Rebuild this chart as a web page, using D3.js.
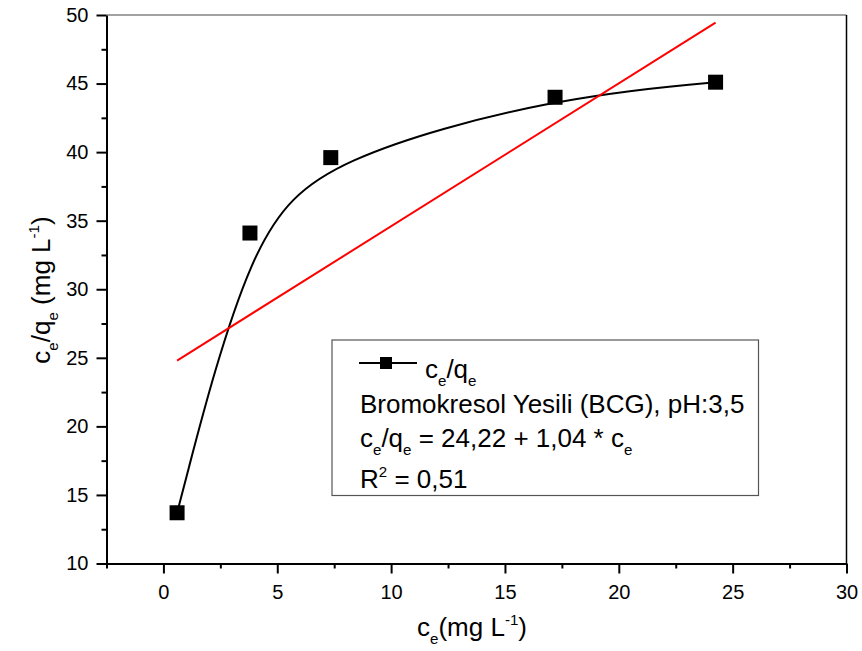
<!DOCTYPE html>
<html>
<head>
<meta charset="utf-8">
<script src="https://cdn.jsdelivr.net/npm/d3@7"></script>
<style>
  html, body { margin: 0; padding: 0; background: #fff; }
  svg { display: block; font-family: Arial, "Liberation Sans", sans-serif; }
</style>
</head>
<body>
<svg id="mount" width="862" height="651"></svg>
<script>
// Data
var ceValues = [0.6, 3.8, 7.35, 17.2, 24.25];
var ceqeValues = [13.7, 34.1, 39.6, 44.0, 45.1];

// Linear fit ends
var fitX = [0.6, 24.25];
var fitY = [24.8, 49.45];

var xTicks = [0, 5, 10, 15, 20, 25, 30];
var xMinorTicks = [-2.5, 2.5, 7.5, 12.5, 17.5, 22.5, 27.5];
var yTicks = [10, 15, 20, 25, 30, 35, 40, 45, 50];
var yMinorTicks = [12.5, 17.5, 22.5, 27.5, 32.5, 37.5, 42.5, 47.5];

var legendLines = [
  "Bromokresol Yesili (BCG), pH:3,5",
  "c_e/q_e = 24,22 + 1,04 * c_e",
  "R^2 = 0,51"
];

/**
 * Add text with _x subscripts and ^x superscripts to a text node
 * @param {Selection} el
 * @param {string} str
 * @param {number} size
 */
function richText(el, str, size) {
  var parts = str.split(/([_^](?:-?\d+|[a-z]))/);
  var shift = 0;
  parts.forEach(function(p) {
    if (!p) return;
    var t = el.append("tspan");
    var target = 0;
    var fs = size;
    var txt = p;
    if (p[0] === "_") { target = size * 0.32; fs = size * 0.58; txt = p.slice(1); }
    else if (p[0] === "^") { target = -size * 0.42; fs = size * 0.58; txt = p.slice(1); }
    t.attr("dy", target - shift).style("font-size", fs + "px").text(txt);
    shift = target;
  });
}

var svg = d3.select("#mount");
var margin = { top: 15, right: 15.5, bottom: 87.5, left: 106.5 };
var width = 862 - margin.left - margin.right;
var height = 651 - margin.top - margin.bottom;

var g = svg.append("g")
  .attr("transform", "translate(" + margin.left + "," + margin.top + ")");

var xScale = d3.scaleLinear().domain([-2.5, 30]).range([0, width]);
var yScale = d3.scaleLinear().domain([10, 50]).range([height, 0]);

// frame top and right
g.append("line")
  .attr("x1", 0).attr("x2", width).attr("y1", 0).attr("y2", 0)
  .attr("stroke", "#444").attr("stroke-width", 1.2);
g.append("line")
  .attr("x1", width).attr("x2", width).attr("y1", 0).attr("y2", height)
  .attr("stroke", "#000").attr("stroke-width", 1.5);

// x axis
var xAxis = g.append("g")
  .attr("transform", "translate(0," + height + ")");
xAxis.call(d3.axisBottom(xScale).tickValues(xTicks).tickSize(10).tickPadding(11).tickSizeOuter(0));
xAxis.append("g")
  .call(d3.axisBottom(xScale).tickValues(xMinorTicks).tickSize(5).tickFormat("").tickSizeOuter(0))
  .select(".domain").remove();

// y axis
var yAxis = g.append("g");
yAxis.call(d3.axisLeft(yScale).tickValues(yTicks).tickSize(10).tickPadding(8).tickSizeOuter(0));
yAxis.append("g")
  .call(d3.axisLeft(yScale).tickValues(yMinorTicks).tickSize(5).tickFormat("").tickSizeOuter(0))
  .select(".domain").remove();

g.selectAll(".domain").attr("stroke", "#000").attr("stroke-width", 2);
g.selectAll(".tick line").attr("stroke", "#000").attr("stroke-width", 2);
g.selectAll(".tick text")
  .attr("fill", "#000")
  .style("font-size", "20px")
  .style("font-family", "Arial, 'Liberation Sans', sans-serif");

// axis titles
var xLabel = svg.append("text")
  .attr("x", 472).attr("y", 636)
  .attr("text-anchor", "middle")
  .attr("fill", "#000");
richText(xLabel, "c_e(mg L^-1)", 26);

var yLabel = svg.append("text")
  .attr("transform", "translate(50,290) rotate(-90)")
  .attr("text-anchor", "middle")
  .attr("fill", "#000");
richText(yLabel, "c_e/q_e (mg L^-1)", 26);

// B-spline through the points
var points = ceValues.map(function(x, i) { return [x, ceqeValues[i]]; });
var spline = d3.line()
  .curve(d3.curveBasis)
  .x(function(d) { return xScale(d[0]); })
  .y(function(d) { return yScale(d[1]); });

g.append("path")
  .datum(points)
  .attr("fill", "none")
  .attr("stroke", "#000")
  .attr("stroke-width", 2)
  .attr("d", spline);

// linear fit
var fitPoints = fitX.map(function(x, i) { return [x, fitY[i]]; });
g.append("path")
  .datum(fitPoints)
  .attr("fill", "none")
  .attr("stroke", "#ff0000")
  .attr("stroke-width", 2)
  .attr("d", d3.line()
    .x(function(d) { return xScale(d[0]); })
    .y(function(d) { return yScale(d[1]); }));

// markers
var sq = 15;
g.selectAll("rect.pt")
  .data(points)
  .enter()
  .append("rect")
  .attr("class", "pt")
  .attr("x", function(d) { return xScale(d[0]) - sq / 2; })
  .attr("y", function(d) { return yScale(d[1]) - sq / 2; })
  .attr("width", sq)
  .attr("height", sq)
  .attr("fill", "#000");

// legend
var legend = svg.append("g");
legend.append("rect")
  .attr("x", 332).attr("y", 340)
  .attr("width", 426.5).attr("height", 155.5)
  .attr("fill", "#fff")
  .attr("stroke", "#555")
  .attr("stroke-width", 1.2);
legend.append("line")
  .attr("x1", 359).attr("x2", 417).attr("y1", 363).attr("y2", 363)
  .attr("stroke", "#000").attr("stroke-width", 2);
legend.append("rect")
  .attr("x", 380).attr("y", 357).attr("width", 12).attr("height", 12)
  .attr("fill", "#000");
var legTitle = legend.append("text")
  .attr("x", 425).attr("y", 378).attr("fill", "#000");
richText(legTitle, "c_e/q_e", 26);

var legendBaselines = [413, 447, 488];
legendLines.forEach(function(line, i) {
  var t = legend.append("text")
    .attr("x", 360).attr("y", legendBaselines[i]).attr("fill", "#000");
  richText(t, line, 26);
});
</script>
</body>
</html>
